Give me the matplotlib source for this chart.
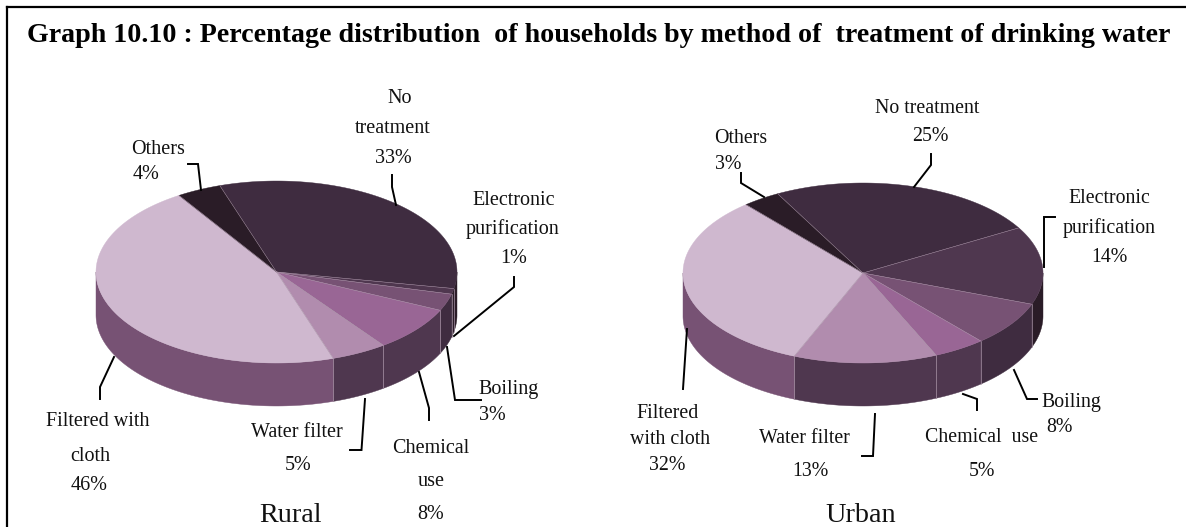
import numpy as np
import matplotlib
matplotlib.use("Agg")
import matplotlib.pyplot as plt
from matplotlib.patches import Polygon

plt.rcParams['font.family'] = ['Liberation Serif', 'DejaVu Serif']

TITLE = "Graph 10.10 : Percentage distribution  of households by method of  treatment of drinking water"
categories = ["No treatment", "Electronic purification", "Boiling", "Chemical use",
              "Water filter", "Filtered with cloth", "Others"]
rural_values = [33, 1, 3, 8, 5, 46, 4]
urban_values = [24.5, 14, 8, 4.7, 12.9, 32.5, 3.4]

top_colors = ["#3f2c40", "#4f374f", "#775274", "#996695", "#b18cae", "#cfb8cf", "#2a1c27"]
side_colors = ["#2a1c27", "#2a1c27", "#3f2c40", "#4f374f", "#4f374f", "#775274", "#1f141c"]
EDGE = "#a892a6"

# (text, centre x, centre y) in pixels
rural_labels = [("No", 400, 97), ("treatment", 393, 127), ("33%", 393, 157),
                ("Others", 158, 148), ("4%", 146, 173),
                ("Electronic", 514, 199), ("purification", 513, 228), ("1%", 514, 257),
                ("Boiling", 509, 388), ("3%", 492, 414),
                ("Chemical", 431, 447), ("use", 431, 480), ("8%", 431, 513),
                ("Water filter", 297, 431), ("5%", 298, 464),
                ("Filtered with", 98, 420), ("cloth", 90, 455), ("46%", 89, 484)]
urban_labels = [("No treatment", 927, 107), ("25%", 930, 135),
                ("Others", 741, 137), ("3%", 728, 163),
                ("Electronic", 1109, 197), ("purification", 1109, 227), ("14%", 1109, 256),
                ("Boiling", 1071, 401), ("8%", 1059, 426),
                ("Chemical  use", 982, 436), ("5%", 982, 470),
                ("Water filter", 804, 437), ("13%", 810, 470),
                ("Filtered", 668, 412), ("with cloth", 670, 438), ("32%", 667, 464)]
rural_leaders = [[(188, 164), (198, 164), (201, 190)],
                 [(392, 175), (392, 187), (396, 205)],
                 [(514, 277), (514, 287), (454, 336)],
                 [(447, 347), (455, 400), (481, 400)],
                 [(419, 372), (429, 408), (429, 420)],
                 [(365, 399), (361.5, 450), (350, 450)],
                 [(114, 357), (100, 387), (100, 399)]]
urban_leaders = [[(741, 173), (741, 183), (764, 197)],
                 [(931, 154), (931, 165), (914, 187)],
                 [(1055, 217), (1044, 217), (1044, 267)],
                 [(1014, 370), (1027, 399), (1037, 399)],
                 [(963, 394), (977, 399), (977, 410)],
                 [(875, 414), (873, 456), (862, 456)],
                 [(687, 329), (683, 389)]]

fig = plt.figure(figsize=(11.86, 5.27), dpi=100)
ax = fig.add_axes([0, 0, 1, 1])
ax.set_xlim(0, 1186)
ax.set_ylim(527, 0)
ax.axis("off")


def point(t, cx, cy, rx, ry):
    r = np.radians(t)
    return cx + rx * np.sin(r), cy - ry * np.cos(r)


def draw_pie(values, cx, cy, rx, ry, depth, start):
    angles = start + np.concatenate([[0], np.cumsum(values)]) * 3.6
    # side wall: visible clockwise angles 90..270 (also shifted by a full turn)
    for i in range(len(values)):
        for shift in (0, -360):
            a0 = max(angles[i] + shift, 90)
            a1 = min(angles[i + 1] + shift, 270)
            if a1 > a0:
                t = np.linspace(a0, a1, 80)
                x, y = point(t, cx, cy, rx, ry)
                verts = np.r_[np.c_[x, y], np.c_[x[::-1], y[::-1] + depth]]
                ax.add_patch(Polygon(verts, closed=True, fc=side_colors[i], ec=side_colors[i],
                                     lw=0.3, zorder=2))
    for a in angles[:-1]:
        m = a % 360
        if 90 < m < 270:
            x, y = point(m, cx, cy, rx, ry)
            ax.plot([x, x], [y, y + depth], color=EDGE, lw=0.5, zorder=3)
    # top face
    for i in range(len(values)):
        t = np.linspace(angles[i], angles[i + 1], 160)
        x, y = point(t, cx, cy, rx, ry)
        verts = np.r_[[[cx, cy]], np.c_[x, y]]
        ax.add_patch(Polygon(verts, closed=True, fc=top_colors[i], ec=top_colors[i],
                             lw=0.3, zorder=4))
    for a in angles[:-1]:
        x, y = point(a, cx, cy, rx, ry)
        ax.plot([cx, x], [cy, y], color=EDGE, lw=0.35, zorder=5)


def draw_text(labels, leaders, size):
    for s, x, y in labels:
        ax.text(x, y + 1.5, s, ha="center", va="center", fontsize=size, color="#111111", zorder=7)
    for pts in leaders:
        p = np.array(pts, dtype=float)
        ax.plot(p[:, 0], p[:, 1], color="black", lw=1.4, zorder=6, solid_joinstyle="miter")


draw_pie(rural_values, 276.5, 272, 180.5, 91, 43, -18.3)
draw_pie(urban_values, 863, 273, 180, 90, 43, -28.3)
draw_text(rural_labels, rural_leaders, 14.5)
draw_text(urban_labels, urban_leaders, 14.3)

ax.text(290, 516, "Rural", ha="center", va="center", fontsize=20.3, color="#111111")
ax.text(861, 515, "Urban", ha="center", va="center", fontsize=20.3, color="#111111")
ax.text(27, 36, TITLE, ha="left", va="center", fontsize=20.2, fontweight="bold", color="black")

# frame: top and left rules
ax.plot([7, 7], [527, 6.5], color="black", lw=1.6, zorder=8)
ax.plot([7, 1186], [6.5, 6.5], color="black", lw=1.6, zorder=8)

fig.savefig("out.png", dpi=100)
